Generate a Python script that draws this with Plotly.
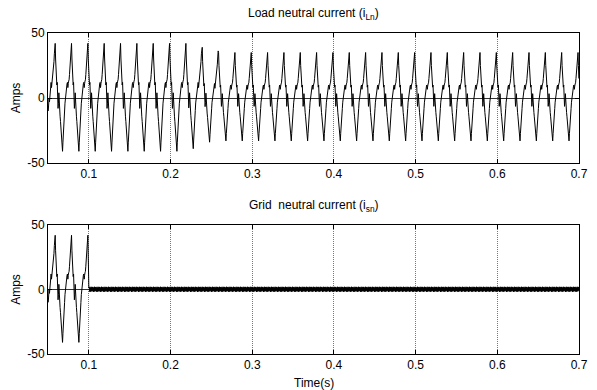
import numpy as np
import plotly.graph_objects as go
from plotly.subplots import make_subplots

# ---- data ----
# one 20 ms cycle of the load neutral current, sampled every 0.5 ms, starting at the positive peak (A)
cycle_shape = [42, 30, 18, 14, 10, 12, 0, -8, -4, 4, -8, -12, -14, -18, -24, -30, -35, -39, -41, -34,
               -24, -17, -14, -10, -4, 0, -3, 3, 8, 11, 12, 8, 11, 13, 14, 18, 22, 28, 34, 39]
# per-cycle positive / negative peak values (A), cycle k peaks at first_peak + 0.02*k
first_peak = 0.0388
pos_peaks = [42, 42, 42, 42, 42, 42, 42, 42, 42, 42, 39, 35, 35, 35, 35, 35, 35,
             35, 35, 35, 35, 35, 35, 35, 35, 35, 35, 35, 35, 35, 35, 35, 35, 35]
neg_peaks = [-41, -41, -41, -41, -41, -41, -41, -41, -41, -39, -34, -33, -33, -33, -33, -33, -33,
             -33, -33, -33, -33, -33, -33, -33, -33, -33, -33, -33, -33, -33, -33, -33, -33, -33]
# grid neutral current ripple after compensation starts (A), every 0.25 ms
ripple = [1.2, -1.0, 2.0, -1.3, 0.6, -1.8, 1.5, -0.5, 1.3, -1.6, 0.4, 2.1, -1.2, 0.8, -1.4, 1.7, -0.8]
comp_start = 0.1
x_ticks = [0.1, 0.2, 0.3, 0.4, 0.5, 0.6, 0.7]
y_ticks = [-50, 0, 50]

# ---- build the series ----
dt = 0.0005
t_load, i_load = [], []
for k in range(len(pos_peaks)):
    for j, v in enumerate(cycle_shape):
        t = first_peak + 0.02 * k + j * dt
        if t < 0.05 - 1e-9 or t > 0.7 + 1e-9:
            continue
        val = v * (pos_peaks[k] / 42.0) if v >= 0 else v * (neg_peaks[k] / -41.0)
        t_load.append(t)
        i_load.append(val)

t_grid = [t for t in t_load if t <= 0.0990]
i_grid = [v for t, v in zip(t_load, i_load) if t <= 0.0990]
n = 0
t = comp_start
while t <= 0.7 + 1e-9:
    t_grid.append(t)
    i_grid.append(ripple[n % len(ripple)])
    n += 1
    t = comp_start + n * 0.00025

fig = make_subplots(rows=2, cols=1, vertical_spacing=0.19)
fig.add_trace(go.Scatter(x=t_load, y=i_load, mode="lines",
                         line=dict(color="black", width=1), showlegend=False), row=1, col=1)
fig.add_trace(go.Scatter(x=t_grid, y=i_grid, mode="lines",
                         line=dict(color="black", width=1), showlegend=False), row=2, col=1)

FAM = "Liberation Sans, Arial, sans-serif"
font = dict(family=FAM, size=12, color="black")
axis_common = dict(showline=True, linecolor="black", linewidth=1, mirror="ticks",
                   ticks="inside", ticklen=4, tickcolor="black", zeroline=False,
                   tickfont=font)
for r in (1, 2):
    fig.update_xaxes(range=[0.05, 0.7], tickvals=x_ticks, ticktext=[str(v) for v in x_ticks],
                     showgrid=True, gridcolor="#777777", griddash="1px,1px", gridwidth=1,
                     ticklabeloverflow="allow",
                     row=r, col=1, **axis_common)
    fig.update_yaxes(range=[-50, 50], tickvals=y_ticks, ticktext=[str(v) for v in y_ticks],
                     showgrid=True, gridcolor="#333333", gridwidth=1,
                     title=dict(text="Amps", font=font, standoff=4),
                     row=r, col=1, **axis_common)

fig.update_layout(width=597, height=390, margin=dict(l=48, r=9, t=33, b=36),
                  paper_bgcolor="white", plot_bgcolor="white", font=font)
fig.update_yaxes(domain=[0.595, 1.0], row=1, col=1)
fig.update_yaxes(domain=[0.0, 0.402], row=2, col=1)

fig.add_annotation(text="Load neutral current (i<sub>Ln</sub>)", xref="paper", yref="paper",
                   x=0.5, y=1.0, yshift=9, yanchor="bottom", showarrow=False,
                   font=dict(family=FAM, size=12, color="black"))
fig.add_annotation(text="Grid  neutral current (i<sub>sn</sub>)", xref="paper", yref="paper",
                   x=0.5, y=0.402, yshift=9, yanchor="bottom", showarrow=False,
                   font=dict(family=FAM, size=12, color="black"))
fig.add_annotation(text="Time(s)", xref="paper", yref="paper", x=0.5, y=0, yshift=-20,
                   yanchor="top", showarrow=False,
                   font=dict(family=FAM, size=12, color="black"))

fig.write_html("out.html")
